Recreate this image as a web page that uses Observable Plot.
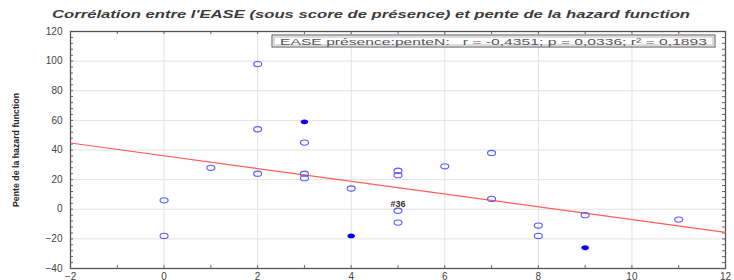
<!DOCTYPE html>
<html><head><meta charset="utf-8">
<script src="https://cdn.jsdelivr.net/npm/d3@7"></script>
<script src="https://cdn.jsdelivr.net/npm/@observablehq/plot@0.6"></script>
<style>
body{margin:0;background:#fff;}
#chart{width:734px;height:280px;overflow:hidden;}
</style></head><body>
<div id="chart"></div>
<script>
// Data
const ease  = [0, 0, 1, 2, 2, 2, 3, 3, 3, 3, 4, 4, 5, 5, 5, 5, 6, 7, 7, 8, 8, 9, 9, 11];
const pente = [6, -18, 28, 98, 54, 24, 59, 45, 24, 21, 14, -18, 26, 23, -1, -9, 29, 38, 7, -11, -18, -4, -26, -7];
const filled = [false, false, false, false, false, false, true, false, false, false, false, true, false, false, false, false, false, false, false, false, false, false, true, false];
const xTicks = [-2, 0, 2, 4, 6, 8, 10, 12];
const yTicks = [-40, -20, 0, 20, 40, 60, 80, 100, 120];
const xDomain = [-2, 12];
const yDomain = [-40, 120];
const titleText = "Corrélation entre l'EASE (sous score de présence) et pente de la hazard function";
const yLabel = "Pente de la hazard function";
const statText = "EASE présence:penteN:   r = -0,4351; p = 0,0336; r² = 0,1893";
const outlierLabel = "#36";
const outlierIndex = 14;

const points = ease.map((x, i) => ({x, y: pente[i], filled: filled[i]}));

// least-squares fit computed from the data
const mx = d3.mean(ease), my = d3.mean(pente);
const slope = d3.sum(ease, (x, i) => (x - mx) * (pente[i] - my)) / d3.sum(ease, x => (x - mx) ** 2);
const intercept = my - slope * mx;
const fitLine = xDomain.map(x => ({x, y: intercept + slope * x}));

function ellipseSymbol(rx, ry) {
  return {
    draw(ctx) {
      const k = 0.5523;
      ctx.moveTo(rx, 0);
      ctx.bezierCurveTo(rx, ry * k, rx * k, ry, 0, ry);
      ctx.bezierCurveTo(-rx * k, ry, -rx, ry * k, -rx, 0);
      ctx.bezierCurveTo(-rx, -ry * k, -rx * k, -ry, 0, -ry);
      ctx.bezierCurveTo(rx * k, -ry, rx, -ry * k, rx, 0);
      ctx.closePath();
    }
  };
}

const W = 734, H = 280, mL = 70, mR = 9, mT = 31, mB = 12;
const fw = W - mL - mR, fh = H - mT - mB, tick = 3;
const minorY = d3.range(yDomain[0], yDomain[1] + 0.1, 4);
const minorX = d3.range(xDomain[0], xDomain[1] + 0.1, 1);

const plot = Plot.plot({
  width: W,
  height: H,
  marginTop: mT,
  marginBottom: mB,
  marginLeft: mL,
  marginRight: mR,
  style: {fontFamily: "'Liberation Sans', Arial, sans-serif", fontSize: "10px", background: "#fff", overflow: "hidden"},
  x: {domain: xDomain},
  y: {domain: yDomain},
  marks: [
    Plot.gridX(xTicks, {stroke: "#e2e2e2", strokeOpacity: 1}),
    Plot.gridY(yTicks, {stroke: "#e2e2e2", strokeOpacity: 1}),
    // inward minor ticks on all four sides
    Plot.tickY(minorY, {y: d => d, insetRight: fw - tick, stroke: "#666"}),
    Plot.tickY(minorY, {y: d => d, insetLeft: fw - tick, stroke: "#666"}),
    Plot.tickX(minorX, {x: d => d, insetBottom: fh - tick, stroke: "#666"}),
    Plot.tickX(minorX, {x: d => d, insetTop: fh - tick, stroke: "#666"}),
    Plot.axisY(yTicks, {anchor: "left", tickSize: 0, tickPadding: 8, fill: "#444", fontSize: 10, label: null}),
    Plot.axisX(xTicks, {anchor: "bottom", tickSize: 0, tickPadding: 4, fill: "#444", fontSize: 10, label: null}),
    Plot.frame({stroke: "#555", strokeWidth: 1.3}),
    Plot.line(fitLine, {x: "x", y: "y", stroke: "#ff5c5c", strokeWidth: 1.2}),
    Plot.dot(points.filter(d => !d.filled), {x: "x", y: "y", symbol: ellipseSymbol(4, 2.6), stroke: "#5a5aff", strokeWidth: 1.1, fill: "none"}),
    Plot.dot(points.filter(d => d.filled), {x: "x", y: "y", symbol: ellipseSymbol(3.8, 2.4), stroke: "none", fill: "#0000ff"}),
    Plot.text([points[outlierIndex]], {x: "x", y: "y", text: () => outlierLabel, dy: -7, fill: "#333", fontWeight: "bold", fontSize: 9})
  ]
});

document.getElementById("chart").appendChild(plot);

const svg = d3.select(plot);
// title
svg.append("text")
  .attr("x", 52).attr("y", 18)
  .attr("text-anchor", "start")
  .attr("textLength", 638).attr("lengthAdjust", "spacingAndGlyphs")
  .attr("font-style", "italic").attr("font-weight", "bold").attr("font-size", 11)
  .attr("fill", "#3c3c3c")
  .text(titleText);
// y axis label
svg.append("text")
  .attr("transform", "translate(19,150) rotate(-90)")
  .attr("text-anchor", "middle")
  .attr("textLength", 114).attr("lengthAdjust", "spacingAndGlyphs")
  .attr("font-weight", "bold").attr("font-size", 9).attr("fill", "#222")
  .text(yLabel);
// stats box
svg.append("rect").attr("x", 272).attr("y", 35).attr("width", 443).attr("height", 12)
  .attr("fill", "#fff").attr("stroke", "#555").attr("stroke-width", 1);
svg.append("rect").attr("x", 274).attr("y", 37).attr("width", 439).attr("height", 8)
  .attr("fill", "none").attr("stroke", "#aaa").attr("stroke-width", 0.8);
svg.append("text")
  .attr("x", 280).attr("y", 44.5)
  .attr("text-anchor", "start")
  .attr("textLength", 427).attr("lengthAdjust", "spacingAndGlyphs")
  .attr("font-size", 9).attr("fill", "#555")
  .text(statText);
</script>
</body></html>
